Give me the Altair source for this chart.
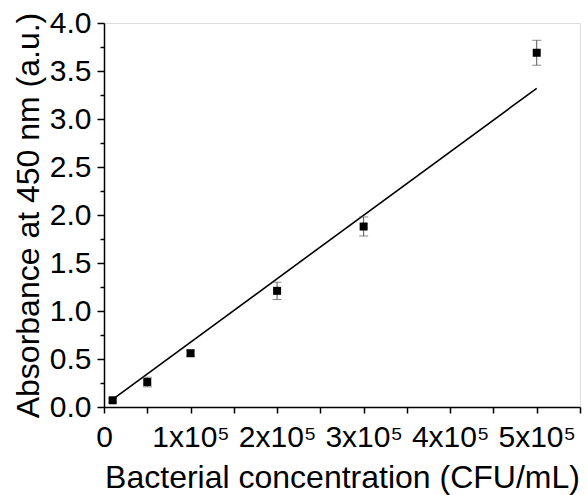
import altair as alt
import pandas as pd

# Data
conc = [1e4, 5e4, 1e5, 2e5, 3e5, 5e5]
absorb = [0.07, 0.26, 0.56, 1.21, 1.88, 3.69]
err = [0.02, 0.05, 0.03, 0.09, 0.10, 0.13]

fit_x = [1e4, 5e5]
fit_y = [0.08, 3.32]

x_ticks = [i * 5e4 for i in range(12)]
y_ticks = [i * 0.25 for i in range(17)]

XT = "Bacterial concentration (CFU/mL)"
YT = "Absorbance at 450 nm (a.u.)"

pts = pd.DataFrame({"x": conc, "y": absorb, "lo": [a - e for a, e in zip(absorb, err)],
                    "hi": [a + e for a, e in zip(absorb, err)]})
fit = pd.DataFrame({"x": fit_x, "y": fit_y})

FONT = "Liberation Sans"

xscale = alt.Scale(domain=[0, 5.5e5], nice=False, zero=False)
yscale = alt.Scale(domain=[0, 4.0], nice=False, zero=False)

xaxis = alt.Axis(
    values=x_ticks,
    labelExpr="datum.value == 0 ? '0' : (datum.value % 100000 == 0 ? format(datum.value / 100000, 'd') + 'x10⁵' : '')",
    grid=False, domainColor="black", domainWidth=1.5, tickColor="black", tickWidth=1.5,
    tickSize=6, labelPadding=9, labelFontSize=30, labelFont=FONT, labelColor="black",
    titleFont=FONT, titleFontSize=32, titleFontWeight="normal", titleColor="black",
    titleBaseline="alphabetic", titleY=80, labelOverlap=False, labelFlush=False,
)
yaxis = alt.Axis(
    values=y_ticks,
    labelExpr="datum.value % 0.5 == 0 ? format(datum.value, '.1f') : ''",
    grid=False, domainColor="black", domainWidth=1.5, tickColor="black", tickWidth=1.5,
    tickSize={"condition": {"test": "datum.value % 0.5 == 0", "value": 7}, "value": 4},
    labelPadding=6, labelFontSize=30, labelFont=FONT, labelColor="black",
    titleFont=FONT, titleFontSize=32, titleFontWeight="normal", titleColor="black",
    titleBaseline="alphabetic", titleX=-66, labelOverlap=False, labelFlush=False,
)

base = alt.Chart(pts)

line = alt.Chart(fit).mark_line(color="black", strokeWidth=1.6).encode(
    x=alt.X("x:Q", scale=xscale, axis=xaxis, title=XT),
    y=alt.Y("y:Q", scale=yscale, axis=yaxis, title=YT),
)

bars = base.mark_errorbar(ticks=alt.MarkConfig(size=9, color="#555555"), color="#555555", thickness=1).encode(
    x=alt.X("x:Q", scale=xscale, axis=xaxis, title=XT),
    y=alt.Y("lo:Q", scale=yscale, axis=yaxis, title=YT),
    y2="hi:Q",
)

squares = base.mark_point(shape="square", filled=True, color="black", size=64, opacity=1).encode(
    x=alt.X("x:Q", scale=xscale, axis=xaxis, title=XT),
    y=alt.Y("y:Q", scale=yscale, axis=yaxis, title=YT),
)

chart = alt.layer(line, bars, squares).properties(
    width=476, height=384,
    autosize=alt.AutoSizeParams(type="none"),
    padding={"left": 104, "top": 23, "right": 8, "bottom": 88},
).configure_view(stroke="black", strokeWidth=1.5).configure(background="white")

chart.save("out.html", embed_options={"renderer": "svg", "actions": False})
